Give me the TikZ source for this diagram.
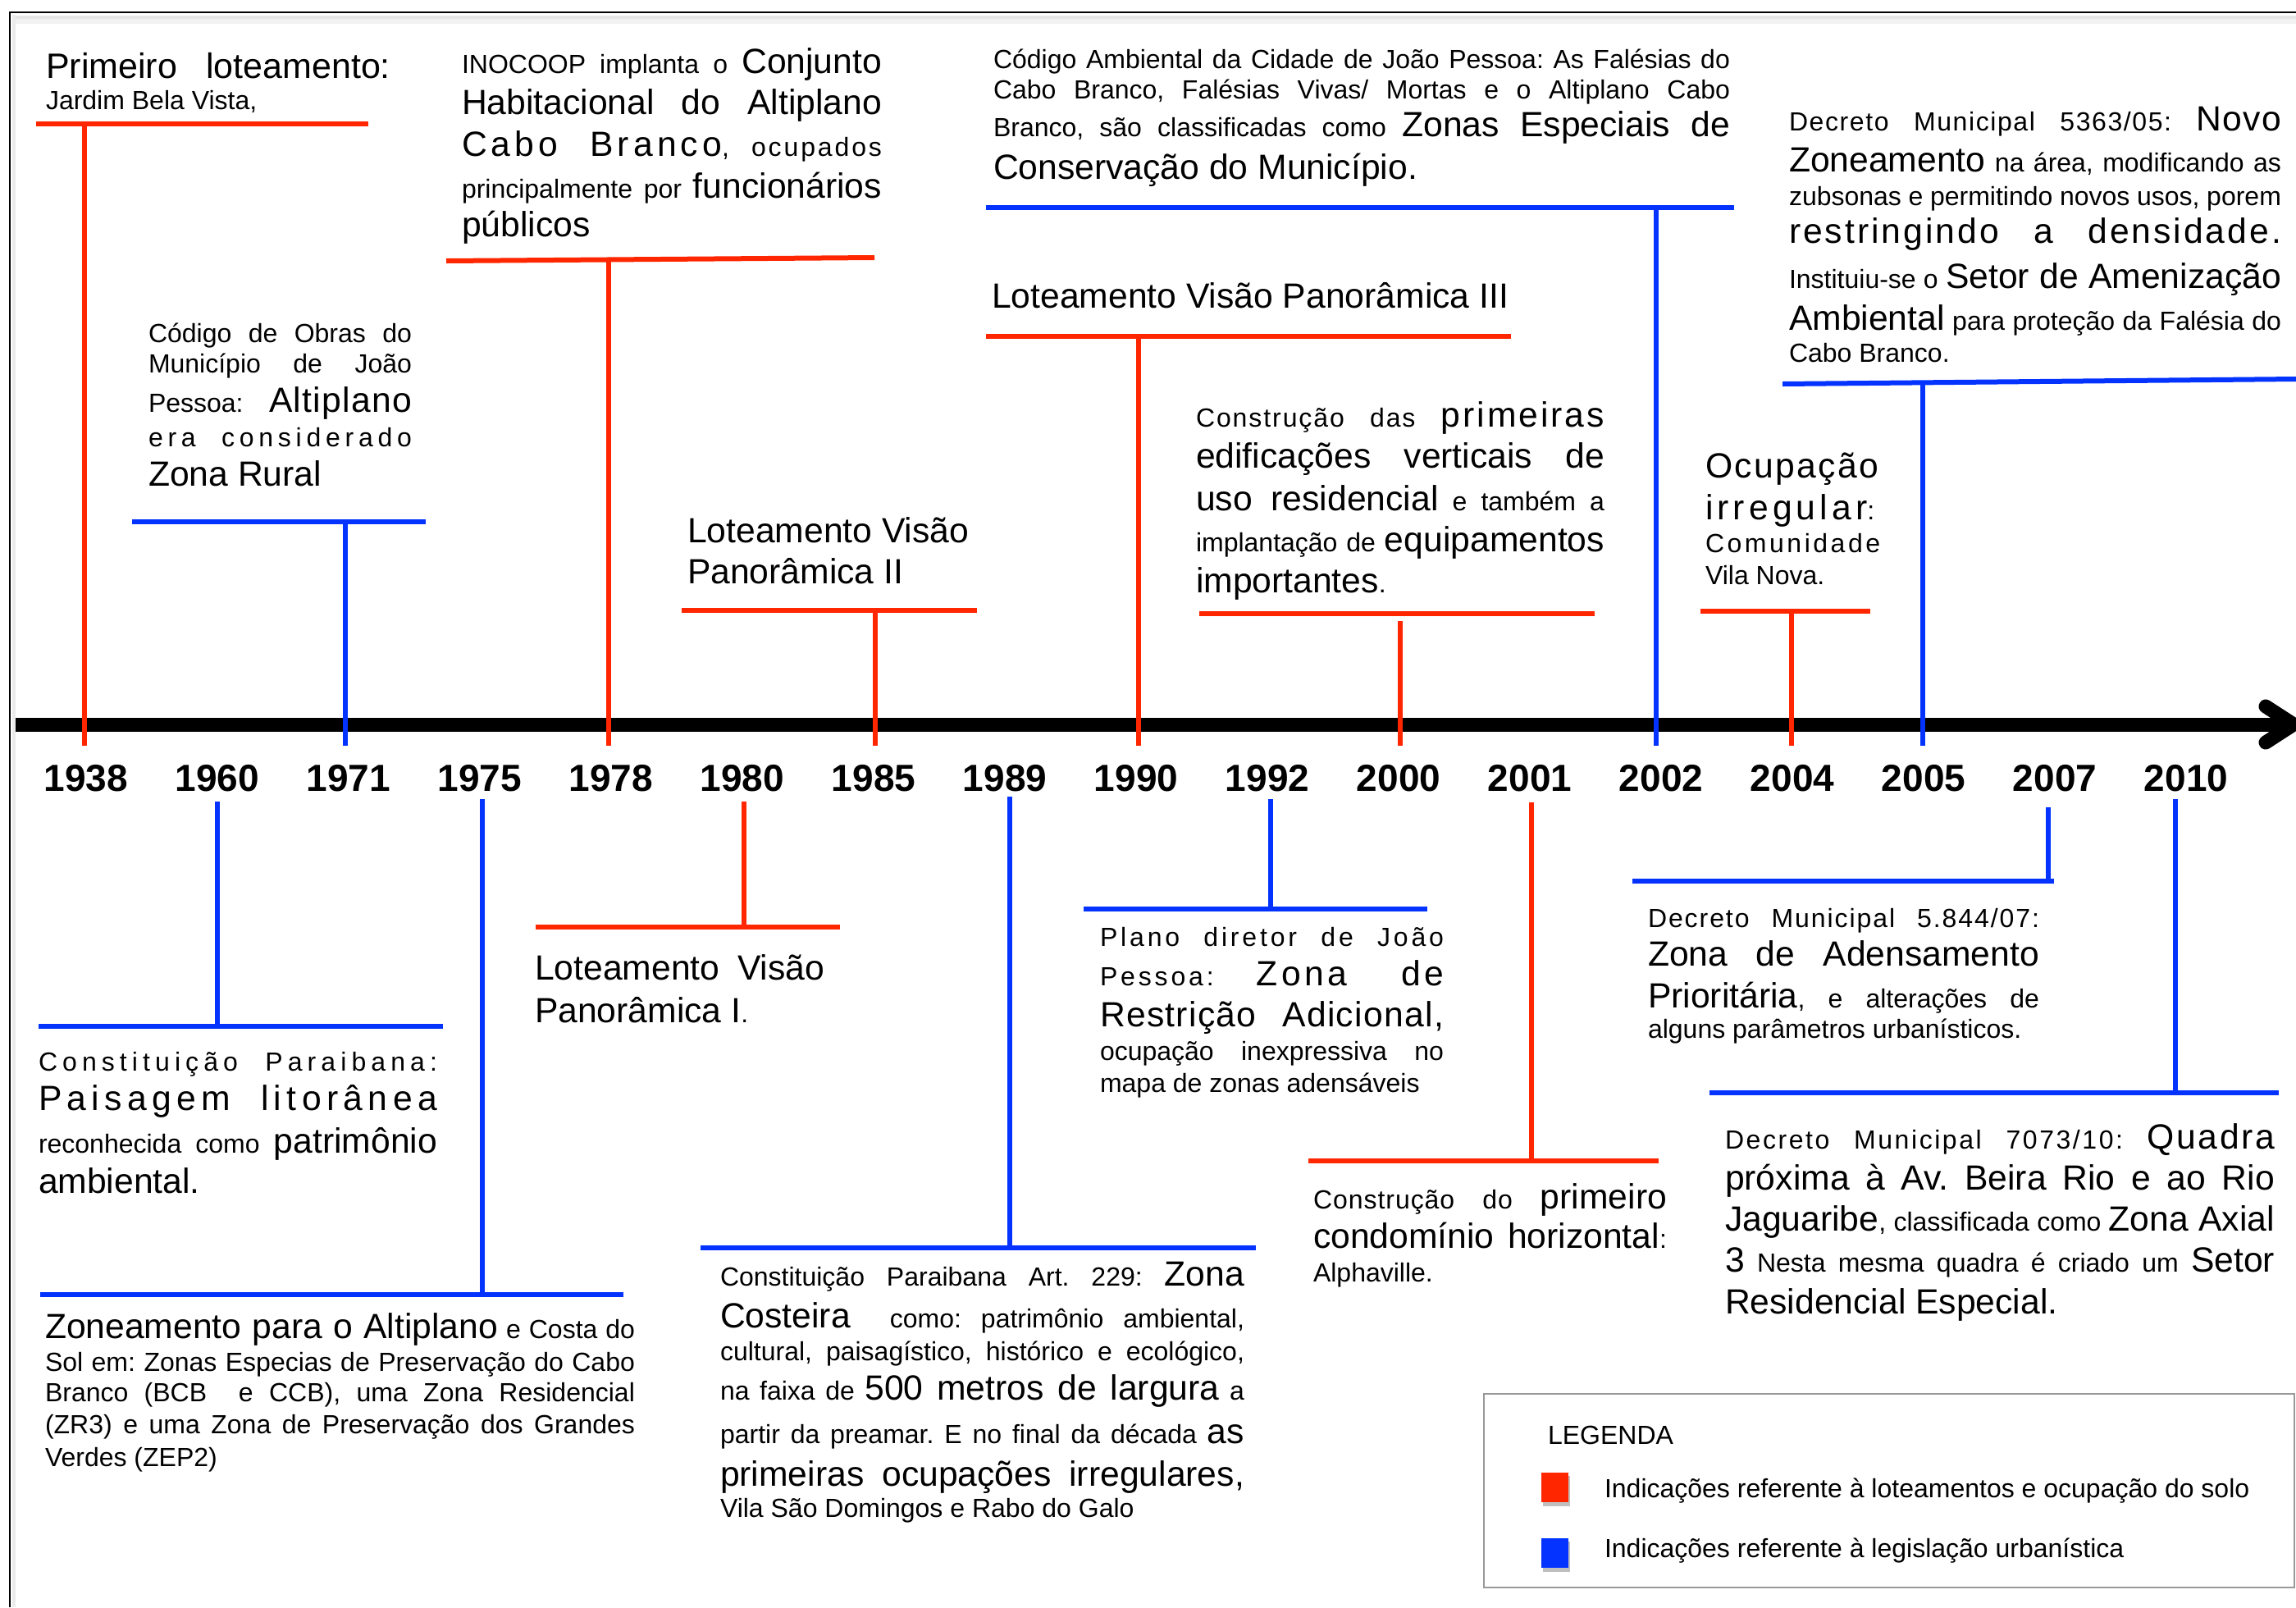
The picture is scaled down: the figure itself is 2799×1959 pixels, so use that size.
\documentclass[tikz,border=0pt]{standalone}
\usepackage{fontspec}
\setmainfont{Liberation Sans}
\definecolor{tred}{HTML}{FF2600}
\definecolor{tblue}{HTML}{0433FF}
\newdimen\pxu \pxu=0.3pt
\newcommand\smf{\fontsize{9.6}{11}\selectfont}
\newcommand\lgf{\fontsize{12.8}{15}\selectfont}
\newcommand\lspc[1]{\addfontfeatures{LetterSpace=#1}}
\newcommand\jline[5]{\node[txt] (#1) at (#2,#3) {\makebox[#4\pxu][s]{#5}};}
\newcommand\nline[4]{\node[txt] (#1) at (#2,#3) {#4};}
\begin{document}
\frenchspacing
\begin{tikzpicture}[x=0.3pt,y=-0.3pt,
  txt/.style={anchor=base west,inner sep=0pt,outer sep=0pt},
  yr/.style={anchor=base,inner sep=0pt,font=\fontsize{13.8}{16}\selectfont\bfseries},
  redl/.style={draw=tred,line width=1.8pt},
  bluel/.style={draw=tblue,line width=1.8pt},
  tlaxis/.style={line width=5.1pt}]
\useasboundingbox (0,0) rectangle (2799,1959);
\fill[white] (0,0) rectangle (2799,1959);
% frame
\draw[black!10,line width=1.5pt] (15,21) -- (2800,21);
\draw[black!5,line width=2pt] (15,26) -- (2800,26);
\draw[black!8,line width=1pt] (17,18) -- (17,1959);
\draw[line width=0.75pt] (12,1959) -- (12,15) -- (2800,15);
% axis
\draw[tlaxis] (19,883) -- (2790,883);
\draw[tlaxis,line cap=round,line join=round] (2762,861) -- (2796,883) -- (2762,905);
% years
\foreach \yy [count=\i from 0] in {1938,1960,1971,1975,1978,1980,1985,1989,1990,1992,2000,2001,2002,2004,2005,2007,2010}
  \node[yr] (y\yy) at ({105+160*\i},964) {\yy};

% ---- 1938 (red, above)
\jline{a1}{56}{95}{420}{\fontsize{12.9}{15}\selectfont Primeiro loteamento:}
\nline{a2}{56}{133}{\smf Jardim Bela Vista,}
\draw[redl] (44,151) -- (449,151);
\draw[redl] (103,151) -- (103,909);

% ---- 1971 (blue, above)
\jline{b1}{181}{417}{321}{\smf Código de Obras do}
\jline{b2}{181}{454}{321}{\smf Município de João}
\jline{b3}{181}{502}{321}{{\smf Pessoa: }{\lgf\lspc{3}Altiplano}}
\jline{b4}{181}{544}{321}{\smf\lspc{18}era considerado}
\nline{b5}{181}{592}{\lgf Zona Rural}
\draw[bluel] (161,636) -- (519,636);
\draw[bluel] (421,636) -- (421,909);

% ---- 1978 (red, above)
\jline{c1}{563}{89}{512}{{\smf INOCOOP implanta o }{\lgf Conjunto}}
\jline{c2}{563}{139}{512}{\lgf Habitacional do Altiplano}
\jline{c3}{563}{190}{512}{{\lgf\lspc{12}Cabo Branco}{\smf\lspc{9}, ocupados}}
\jline{c4}{563}{241}{512}{{\smf principalmente por }{\lgf funcionários}}
\nline{c5}{563}{288}{\lgf públicos}
\draw[redl] (544,318) -- (1066,314);
\draw[redl] (742,316) -- (742,909);

% ---- 1985 (red, above)
\nline{d1}{838}{661}{\lgf Loteamento Visão}
\nline{d2}{838}{711}{\lgf Panorâmica II}
\draw[redl] (831,744) -- (1191,744);
\draw[redl] (1067,747) -- (1067,909);

% ---- 1990 (red, above)
\nline{e1}{1209}{375}{\lgf Loteamento Visão Panorâmica III}
\draw[redl] (1202,410) -- (1842,410);
\draw[redl] (1388,410) -- (1388,909);

% ---- 2002 (blue, above)
\jline{f1}{1211}{83}{898}{\smf Código Ambiental da Cidade de João Pessoa: As Falésias do}
\jline{f2}{1211}{120}{898}{\smf Cabo Branco, Falésias Vivas/ Mortas e o Altiplano Cabo}
\jline{f3}{1211}{166}{898}{{\smf Branco, são classificadas como }{\lgf Zonas Especiais de}}
\nline{f4}{1211}{218}{\lgf Conservação do Município.}
\draw[bluel] (1202,253) -- (2114,253);
\draw[bluel] (2019,253) -- (2019,909);

% ---- 2000 (red, above)
\jline{g1}{1458}{520}{498}{{\smf\lspc{6}Construção das }{\lgf\lspc{7}primeiras}}
\jline{g2}{1458}{570}{498}{\lgf edificações verticais de}
\jline{g3}{1458}{622}{498}{{\lgf uso residencial}{\smf{} e também a}}
\jline{g4}{1458}{672}{498}{{\smf implantação de }{\lgf equipamentos}}
\nline{g5}{1458}{722}{{\lgf importantes}{\smf .}}
\draw[redl] (1462,748) -- (1944,748);
\draw[redl] (1707,757) -- (1707,909);

% ---- 2004 (red, above)
\nline{h1}{2079}{582}{\lgf\lspc{5.5}Ocupação}
\nline{h2}{2079}{633}{{\lgf\lspc{12}irregular}{\smf :}}
\nline{h3}{2079}{673}{\smf\lspc{11}Comunidade}
\nline{h4}{2079}{712}{\smf Vila Nova.}
\draw[redl] (2073,745) -- (2280,745);
\draw[redl] (2184,745) -- (2184,909);

% ---- 2005 (blue, above)
\jline{i1}{2181}{159}{600}{{\smf\lspc{5}Decreto Municipal 5363/05: }{\lgf\lspc{3}Novo}}
\jline{i2}{2181}{209}{600}{{\lgf Zoneamento}{\smf{} na área, modificando as}}
\jline{i3}{2181}{250}{600}{\smf zubsonas e permitindo novos usos, porem}
\jline{i4}{2181}{296}{600}{\lgf\lspc{7}restringindo a densidade.}
\jline{i5}{2181}{351}{600}{{\smf Instituiu-se o }{\lgf Setor de Amenização}}
\jline{i6}{2181}{402}{600}{{\lgf Ambiental}{\smf{} para proteção da Falésia do}}
\nline{i7}{2181}{441}{\smf Cabo Branco.}
\draw[bluel] (2173,468) -- (2800,462);
\draw[bluel] (2344,466) -- (2344,909);

% ---- 1960 (blue, below)
\draw[bluel] (265,977) -- (265,1251);
\draw[bluel] (47,1251) -- (540,1251);
\jline{j1}{47}{1305}{486}{\smf\lspc{19}Constituição Paraibana:}
\jline{j2}{47}{1353}{486}{\lgf\lspc{15}Paisagem litorânea}
\jline{j3}{47}{1405}{486}{{\smf reconhecida como }{\lgf patrimônio}}
\nline{j4}{47}{1454}{\lgf ambiental.}

% ---- 1975 (blue, below)
\draw[bluel] (588,974) -- (588,1578);
\draw[bluel] (49,1578) -- (760,1578);
\jline{k1}{55}{1631}{719}{{\lgf Zoneamento para o Altiplano}{\smf{} e Costa do}}
\jline{k2}{55}{1671}{719}{\smf Sol em: Zonas Especias de Preservação do Cabo}
\jline{k3}{55}{1708}{719}{\smf Branco (BCB \ e CCB), uma Zona Residencial}
\jline{k4}{55}{1747}{719}{\smf (ZR3) e uma Zona de Preservação dos Grandes}
\nline{k5}{55}{1787}{\smf Verdes (ZEP2)}

% ---- 1980 (red, below)
\draw[redl] (907,977) -- (907,1130);
\draw[redl] (653,1130) -- (1024,1130);
\jline{l1}{652}{1194}{353}{\lgf Loteamento Visão}
\nline{l2}{652}{1246}{{\lgf Panorâmica I}{\smf .}}

% ---- 1989 (blue, below)
\draw[bluel] (1231,971) -- (1231,1518);
\draw[bluel] (854,1521) -- (1531,1521);
\jline{m1}{878}{1567}{639}{{\smf Constituição Paraibana Art. 229: }{\lgf Zona}}
\jline{m2}{878}{1618}{639}{{\lgf Costeira}{\smf{} \ como: patrimônio ambiental,}}
\jline{m3}{878}{1658}{639}{\smf cultural, paisagístico, histórico e ecológico,}
\jline{m4}{878}{1706}{639}{{\smf na faixa de }{\lgf 500 metros de largura}{\smf{} a}}
\jline{m5}{878}{1759}{639}{{\smf partir da preamar. E no final da década }{\lgf as}}
\jline{m6}{878}{1811}{639}{\lgf primeiras ocupações irregulares,}
\nline{m7}{878}{1849}{\smf Vila São Domingos e Rabo do Galo}

% ---- 1992 (blue, below)
\draw[bluel] (1549,974) -- (1549,1108);
\draw[bluel] (1321,1108) -- (1740,1108);
\jline{n1}{1341}{1153}{419}{\smf\lspc{12}Plano diretor de João}
\jline{n2}{1341}{1201}{419}{{\smf\lspc{12}Pessoa: }{\lgf\lspc{10}Zona de}}
\jline{n3}{1341}{1251}{419}{\lgf\lspc{3}Restrição Adicional,}
\jline{n4}{1341}{1292}{419}{\smf ocupação inexpressiva no}
\nline{n5}{1341}{1331}{\smf mapa de zonas adensáveis}

% ---- 2001 (red, below)
\draw[redl] (1867,978) -- (1867,1415);
\draw[redl] (1595,1415) -- (2022,1415);
\jline{o1}{1601}{1473}{431}{{\smf\lspc{3}Construção do }{\lgf primeiro}}
\jline{o2}{1601}{1521}{431}{{\lgf condomínio horizontal}{\smf :}}
\nline{o3}{1601}{1562}{\smf Alphaville.}

% ---- 2007 (blue, below)
\draw[bluel] (2497,984) -- (2497,1074);
\draw[bluel] (1990,1074) -- (2504,1074);
\jline{p1}{2009}{1130}{477}{\smf\lspc{6}Decreto Municipal 5.844/07:}
\jline{p2}{2009}{1177}{477}{\lgf Zona de Adensamento}
\jline{p3}{2009}{1228}{477}{{\lgf Prioritária}{\smf, e alterações de}}
\nline{p4}{2009}{1265}{\smf alguns parâmetros urbanísticos.}

% ---- 2010 (blue, below)
\draw[bluel] (2652,974) -- (2652,1332);
\draw[bluel] (2084,1332) -- (2778,1332);
\jline{q1}{2103}{1400}{670}{{\smf\lspc{8}Decreto Municipal 7073/10: }{\lgf\lspc{6}Quadra}}
\jline{q2}{2103}{1450}{670}{\lgf próxima à Av. Beira Rio e ao Rio}
\jline{q3}{2103}{1500}{670}{{\lgf Jaguaribe}{\smf, classificada como }{\lgf Zona Axial}}
\jline{q4}{2103}{1550}{670}{{\lgf 3}{\smf{} Nesta mesma quadra é criado um }{\lgf Setor}}
\nline{q5}{2103}{1601}{\lgf Residencial Especial.}

% ---- legend
\draw[black!40,line width=0.75pt] (1809,1699) rectangle (2797,1935);
\nline{leg}{1887}{1760}{\smf LEGENDA}
\fill[black!25] (1881,1799) rectangle (1914,1836);
\fill[tred] (1879,1795) rectangle (1912,1831);
\nline{leg1}{1956}{1825}{\smf Indicações referente à loteamentos e ocupação do solo}
\fill[black!25] (1881,1879) rectangle (1914,1916);
\fill[tblue] (1879,1875) rectangle (1912,1911);
\nline{leg2}{1956}{1898}{\smf Indicações referente à legislação urbanística}
\end{tikzpicture}
\end{document}
